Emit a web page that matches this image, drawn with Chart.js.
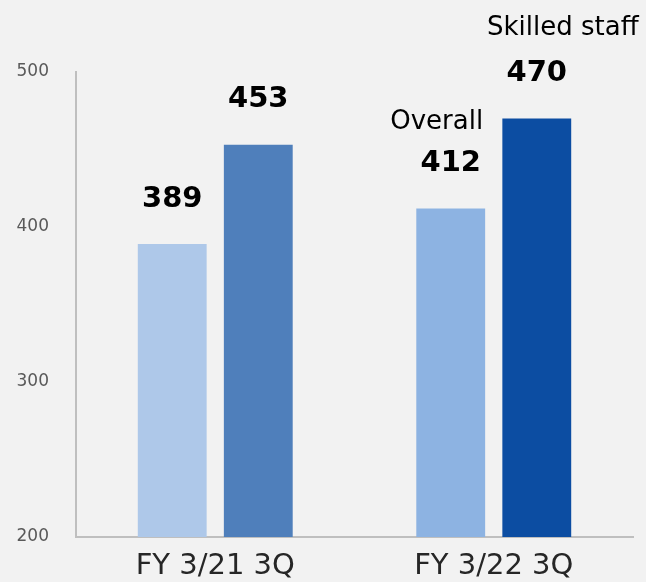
<!DOCTYPE html>
<html>
<head>
<meta charset="utf-8">
<script src="https://cdn.jsdelivr.net/npm/chart.js@4/dist/chart.umd.min.js"></script>
<style>
  html, body { margin: 0; padding: 0; background: #f2f2f2; }
  #wrap { width: 646px; height: 582px; }
</style>
</head>
<body>
<div id="wrap"><canvas id="staffChart" width="646" height="582"></canvas></div>
<script>
// Данные
const categories = ['FY 3/21 3Q', 'FY 3/22 3Q'];
const seriesNames = ['Overall', 'Skilled staff'];
const overallValues = [389, 412];
const skilledValues = [453, 470];
const yTicks = [200, 300, 400, 500];

const overallColors = ['#aec8e9', '#8db3e2'];
const skilledColors = ['#4f7fbb', '#0c4da2'];

Chart.defaults.font.family = "'DejaVu Sans', Verdana, sans-serif";

// подписи значений над столбиками + названия рядов у последней категории
const valueLabels = {
    id: 'valueLabels',
    afterDatasetsDraw(chart) {
        const ctx = chart.ctx;
        ctx.save();
        ctx.textBaseline = 'middle';
        chart.data.datasets.forEach((ds, di) => {
            const meta = chart.getDatasetMeta(di);
            meta.data.forEach((bar, i) => {
                ctx.fillStyle = '#000';
                ctx.font = "bold 29px 'DejaVu Sans', Verdana, sans-serif";
                ctx.textAlign = 'center';
                ctx.fillText(String(ds.data[i]), bar.x, bar.y - 45);
                if (i === ds.data.length - 1) {
                    ctx.font = "26px 'DejaVu Sans', Verdana, sans-serif";
                    if (di === 0) {
                        ctx.textAlign = 'right';
                        ctx.fillText(ds.label, bar.x + bar.width / 2 - 2, bar.y - 86);
                    } else {
                        ctx.textAlign = 'center';
                        ctx.fillText(ds.label, bar.x + 26, bar.y - 90);
                    }
                }
            });
        });
        ctx.restore();
    }
};

new Chart(document.getElementById('staffChart'), {
    type: 'bar',
    data: {
        labels: categories,
        datasets: [
            { label: seriesNames[0], data: overallValues, backgroundColor: overallColors, borderWidth: 0 },
            { label: seriesNames[1], data: skilledValues, backgroundColor: skilledColors, borderWidth: 0 }
        ]
    },
    options: {
        responsive: false,
        animation: false,
        categoryPercentage: 0.618,
        barPercentage: 0.8,
        layout: { padding: { left: 15, right: 13, top: 72, bottom: 0 } },
        plugins: {
            legend: { display: false },
            tooltip: { enabled: false }
        },
        scales: {
            x: {
                grid: { display: false },
                border: { display: true, color: '#bfbfbf', width: 2 },
                ticks: { color: '#262626', font: { size: 29 }, padding: 4 },
                afterFit: axis => { axis.height = 45; axis.paddingLeft = 0; axis.paddingRight = 0; }
            },
            y: {
                min: yTicks[0],
                max: yTicks[yTicks.length - 1],
                afterBuildTicks: axis => { axis.ticks = yTicks.map(v => ({ value: v })); },
                grid: { display: false },
                border: { display: true, color: '#bfbfbf', width: 2 },
                ticks: { color: '#595959', font: { size: 17 }, padding: 19 },
                afterFit: axis => { axis.width = 61; axis.paddingTop = 0; axis.paddingBottom = 0; }
            }
        }
    },
    plugins: [valueLabels]
});
</script>
</body>
</html>
